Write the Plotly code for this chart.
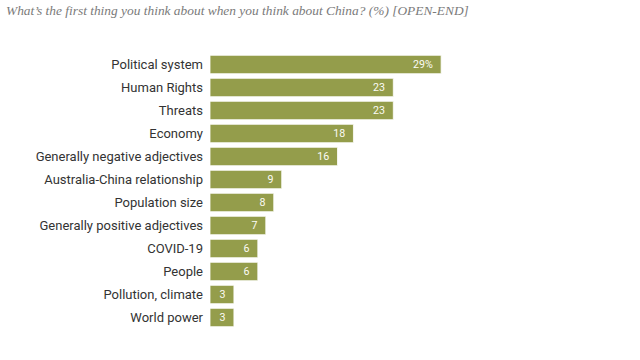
import plotly.graph_objects as go

categories = ["Political system", "Human Rights", "Threats", "Economy",
              "Generally negative adjectives", "Australia-China relationship",
              "Population size", "Generally positive adjectives", "COVID-19",
              "People", "Pollution, climate", "World power"]
values = [29, 23, 23, 18, 16, 9, 8, 7, 6, 6, 3, 3]
labels = ["29%"] + [str(v) for v in values[1:]]
title_text = "What\u2019s the first thing you think about when you think about China? (%) [OPEN-END]"

fig = go.Figure(go.Bar(
    x=values, y=categories, orientation="h", text=labels,
    texttemplate="%{text}\u00a0\u00a0",
    textposition="inside", insidetextanchor="end", textangle=0,
    textfont=dict(family="Roboto, Arial, sans-serif", size=15.5, color="#fbfbf5"),
    marker=dict(color="#949d4b", line=dict(color="#ffffff", width=0.8)),
    width=0.8, cliponaxis=False, hoverinfo="skip",
))

fig.update_layout(
    width=640, height=360,
    margin=dict(l=210, r=10, t=52.5, b=30.5, autoexpand=False),
    paper_bgcolor="white", plot_bgcolor="white",
    showlegend=False,
    title=dict(text=title_text, x=6/640, xanchor="left", xref="container",
               y=1 - 6/360, yanchor="top", yref="container", pad=dict(t=0, l=0),
               font=dict(family="Liberation Serif, Times New Roman, serif", size=13.4,
                         color="#7a7a7a", style="italic")),
    xaxis=dict(range=[0, 52.7], visible=False, fixedrange=True, automargin=False),
    yaxis=dict(categoryorder="array", categoryarray=categories,
               autorange=False, range=[11.5, -0.5], automargin=False, fixedrange=True,
               showgrid=False, zeroline=False, showline=False, ticks="",
               ticklabelstandoff=6,
               tickfont=dict(family="Roboto, Arial, sans-serif", size=13, color="#333333")),
    uniformtext=dict(minsize=8, mode="show"),
)

fig.write_html("out.html", config={"displayModeBar": False},
               post_script="document.body.style.margin='0';")
